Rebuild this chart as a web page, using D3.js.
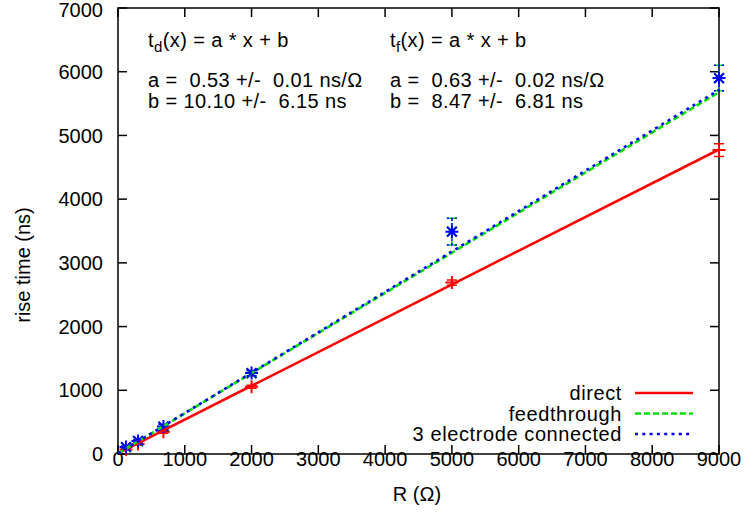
<!DOCTYPE html>
<html><head><meta charset="utf-8">
<script src="https://cdn.jsdelivr.net/npm/d3@7"></script>
<style>
body{margin:0;background:#fff}
svg{display:block}
text{font-family:"Liberation Sans",Arial,Helvetica,sans-serif;fill:#000;white-space:pre}
</style>
</head><body>
<svg id="c" width="744" height="522"></svg>
<script>
// ---- data ----
const R = [120, 300, 680, 2000, 5000, 9000];
const direct = [70, 155, 350, 1055, 2690, 4770];
const directErr = [10, 15, 25, 25, 40, 100];
const feedthrough = [105, 200, 425, 1265, 3490, 5900];
const feedthroughErr = [15, 20, 35, 40, 210, 200];
const electrode = [110, 205, 430, 1270, 3490, 5900];
const electrodeErr = [15, 20, 35, 40, 210, 200];
const seriesNames = ["direct", "feedthrough", "3 electrode connected"];
const fitA = [0.53, 0.63, 0.634];
const fitB = [10.10, 8.47, 8.0];
const xTicks = [0, 1000, 2000, 3000, 4000, 5000, 6000, 7000, 8000, 9000];
const yTicks = [0, 1000, 2000, 3000, 4000, 5000, 6000, 7000];
const xLabel = "R (Ω)";
const yLabel = "rise time (ns)";
const noteLeft = ["d", "a =  0.53 +/-  0.01 ns/Ω", "b = 10.10 +/-  6.15 ns"];
const noteRight = ["f", "a =  0.63 +/-  0.02 ns/Ω", "b =  8.47 +/-  6.81 ns"];

// ---- layout ----
const L = 118, Rt = 719, T = 8, B = 454;
const x = d3.scaleLinear().domain([0, 9000]).range([L, Rt]);
const y = d3.scaleLinear().domain([0, 7000]).range([B, T]);
const svg = d3.select("#c");
const FS = 20;

const styles = [
  {color: "#ff0000", dash: null, ebDash: null, marker: "plus"},
  {color: "#00e000", dash: "6,3", ebDash: "4,2", marker: "cross"},
  {color: "#0000ff", dash: "3,4.3", ebDash: "2,2", marker: "star"}
];
const data = [
  {v: direct, e: directErr},
  {v: feedthrough, e: feedthroughErr},
  {v: electrode, e: electrodeErr}
];

// border
svg.append("rect").attr("x", L).attr("y", T).attr("width", Rt - L).attr("height", B - T)
  .attr("fill", "none").attr("stroke", "#000").attr("stroke-width", 1.5);

// ticks (inward, mirrored)
const tl = 9;
const tg = svg.append("g").attr("stroke", "#000").attr("stroke-width", 1.5);
xTicks.forEach(t => {
  tg.append("line").attr("x1", x(t)).attr("x2", x(t)).attr("y1", B).attr("y2", B - tl);
  tg.append("line").attr("x1", x(t)).attr("x2", x(t)).attr("y1", T).attr("y2", T + tl);
});
yTicks.forEach(t => {
  tg.append("line").attr("x1", L).attr("x2", L + tl).attr("y1", y(t)).attr("y2", y(t));
  tg.append("line").attr("x1", Rt).attr("x2", Rt - tl).attr("y1", y(t)).attr("y2", y(t));
});
// tick labels
svg.append("g").selectAll("text").data(xTicks).join("text")
  .attr("x", d => x(d)).attr("y", 466).attr("text-anchor", "middle")
  .attr("font-size", FS).text(d => d);
svg.append("g").selectAll("text").data(yTicks).join("text")
  .attr("x", 103).attr("y", d => Math.max(y(d), 10)).attr("dy", "0.36em").attr("text-anchor", "end")
  .attr("font-size", FS).text(d => d);

// axis labels
svg.append("text").attr("x", 417).attr("y", 501).attr("text-anchor", "middle")
  .attr("font-size", FS).text(xLabel);
svg.append("text").attr("transform", "translate(30,265) rotate(-90)")
  .attr("text-anchor", "middle").attr("font-size", FS).text(yLabel);

// annotations
function note(x0, lines) {
  const t = svg.append("text").attr("x", x0).attr("y", 47).attr("font-size", FS)
    .attr("letter-spacing", 0.4);
  t.append("tspan").text("t");
  t.append("tspan").attr("dy", 5).attr("font-size", 15).text(lines[0]);
  t.append("tspan").attr("dy", -5).text("(x) = a * x + b");
  svg.append("text").attr("x", x0).attr("y", 87).attr("font-size", FS)
    .attr("letter-spacing", 0.4).text(lines[1]);
  svg.append("text").attr("x", x0).attr("y", 108).attr("font-size", FS)
    .attr("letter-spacing", 0.4).text(lines[2]);
}
note(148, noteLeft);
note(390, noteRight);

// markers
function markerPath(type, s) {
  const p = d3.path();
  if (type === "plus" || type === "star") {
    p.moveTo(-s, 0); p.lineTo(s, 0); p.moveTo(0, -s); p.lineTo(0, s);
  }
  if (type === "cross" || type === "star") {
    const k = s * 0.75;
    p.moveTo(-k, -k); p.lineTo(k, k); p.moveTo(-k, k); p.lineTo(k, -k);
  }
  return p.toString();
}

// clip for fit lines
svg.append("clipPath").attr("id", "clip").append("rect")
  .attr("x", L).attr("y", T).attr("width", Rt - L).attr("height", B - T);

const line = d3.line().x(d => x(d[0])).y(d => y(d[1]));

data.forEach((d, i) => {
  const st = styles[i];
  const g = svg.append("g");
  R.forEach((r, j) => {
    const cx = x(r), y1 = y(d.v[j] - d.e[j]), y2 = y(d.v[j] + d.e[j]);
    const eb = g.append("path")
      .attr("d", `M${cx},${y1}V${y2}M${cx - 5},${y1}H${cx + 5}M${cx - 5},${y2}H${cx + 5}`)
      .attr("stroke", st.color).attr("stroke-width", 1.5).attr("fill", "none");
    if (st.ebDash) eb.attr("stroke-dasharray", st.ebDash);
    g.append("path").attr("transform", `translate(${cx},${y(d.v[j])})`)
      .attr("d", markerPath(st.marker, 6.5))
      .attr("stroke", st.color).attr("stroke-width", 2).attr("fill", "none");
  });
});

// fit lines
fitA.forEach((a, i) => {
  const st = styles[i];
  const pts = [0, 9000].map(v => [v, a * v + fitB[i]]);
  const p = svg.append("path").attr("d", line(pts)).attr("clip-path", "url(#clip)")
    .attr("stroke", st.color).attr("stroke-width", 2.6).attr("fill", "none");
  if (st.dash) p.attr("stroke-dasharray", st.dash);
});

// legend
const legY = [393, 413.5, 434];
seriesNames.forEach((n, i) => {
  const st = styles[i];
  svg.append("text").attr("x", 622).attr("y", legY[i]).attr("dy", "0.36em")
    .attr("text-anchor", "end").attr("font-size", FS).attr("letter-spacing", 0.6).text(n);
  const p = svg.append("line").attr("x1", 635).attr("x2", 693)
    .attr("y1", legY[i]).attr("y2", legY[i])
    .attr("stroke", st.color).attr("stroke-width", 2.6);
  if (st.dash) p.attr("stroke-dasharray", st.dash);
});
</script>
</body></html>
